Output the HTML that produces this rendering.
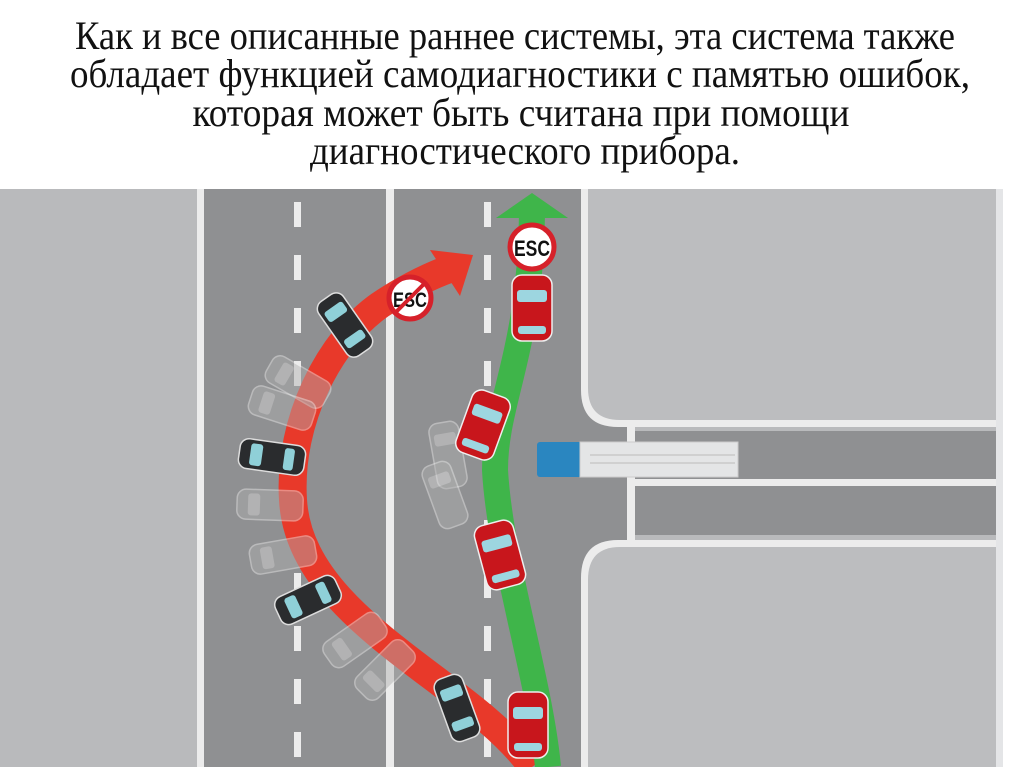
<!DOCTYPE html>
<html><head><meta charset="utf-8"><style>
html,body{margin:0;padding:0;background:#fff;width:1024px;height:767px;overflow:hidden}
svg{display:block}
</style></head><body>
<svg width="1024" height="767" viewBox="0 0 1024 767" xmlns="http://www.w3.org/2000/svg">
<defs>
<g id="bcar"><rect x="-33" y="-15" width="66" height="30" rx="9" fill="#2a2c2e" stroke="#ddd" stroke-width="1.5"/><rect x="-22" y="-11" width="12" height="22" rx="3" fill="#8fd0d8"/><rect x="12" y="-11" width="10" height="22" rx="3" fill="#8fd0d8"/></g>
<g id="gcar" opacity="0.45"><rect x="-33" y="-15" width="66" height="30" rx="9" fill="#b0b0b0" stroke="#eee" stroke-width="1.5"/><rect x="-22" y="-11" width="12" height="22" rx="3" fill="#ddd"/></g>
<g id="rcar"><rect x="-20" y="-33" width="40" height="66" rx="10" fill="#c8161c" stroke="#eee" stroke-width="1.5"/><rect x="-15" y="-18" width="30" height="12" rx="3" fill="#9dd6e0"/><rect x="-14" y="18" width="28" height="8" rx="3" fill="#9dd6e0"/></g>
</defs>
<g font-family="'Liberation Serif','Noto Serif CJK SC',serif" font-size="40" fill="#111" text-anchor="middle">
<text x="515" y="49" textLength="880" lengthAdjust="spacingAndGlyphs">Как и все описанные раннее системы, эта система также</text>
<text x="520" y="87" textLength="900" lengthAdjust="spacingAndGlyphs">обладает функцией самодиагностики с памятью ошибок,</text>
<text x="521" y="126" textLength="657" lengthAdjust="spacingAndGlyphs">которая может быть считана при помощи</text>
<text x="525" y="164" textLength="430" lengthAdjust="spacingAndGlyphs">диагностического прибора.</text>
</g>
<rect x="0" y="189" width="1003" height="578" fill="#b9babc"/>
<rect x="197" y="189" width="391" height="578" fill="#ececec"/>
<rect x="204" y="189" width="182" height="578" fill="#8f9092"/>
<rect x="394" y="189" width="187" height="578" fill="#8f9092"/>
<rect x="581" y="189" width="46" height="578" fill="#8f9092"/>
<rect x="996" y="189" width="7" height="578" fill="#e4e5e7"/>
<path d="M581 189 V390 Q581 427 618 427 H996 V189 Z" fill="#ececec"/>
<path d="M588 189 V388 Q588 420 620 420 H996 V189 Z" fill="#bcbdbf"/>
<path d="M581 767 V578 Q581 540 618 540 H996 V767 Z" fill="#ececec"/>
<path d="M588 767 V580 Q588 547 620 547 H996 V767 Z" fill="#bcbdbf"/>
<rect x="627" y="427" width="8" height="113" fill="#ececec"/>
<rect x="635" y="431" width="361" height="48" fill="#8f9092"/>
<rect x="635" y="479" width="361" height="7" fill="#ececec"/>
<rect x="635" y="486" width="361" height="49" fill="#8f9092"/>
<g fill="#ececec">
<rect x="294" y="202" width="7" height="25"/><rect x="294" y="255" width="7" height="25"/><rect x="294" y="308" width="7" height="25"/><rect x="294" y="361" width="7" height="25"/><rect x="294" y="414" width="7" height="25"/><rect x="294" y="467" width="7" height="25"/><rect x="294" y="520" width="7" height="25"/><rect x="294" y="573" width="7" height="25"/><rect x="294" y="626" width="7" height="25"/><rect x="294" y="679" width="7" height="25"/><rect x="294" y="732" width="7" height="25"/>
<rect x="484" y="202" width="7" height="25"/><rect x="484" y="255" width="7" height="25"/><rect x="484" y="308" width="7" height="25"/><rect x="484" y="361" width="7" height="25"/><rect x="484" y="414" width="7" height="25"/><rect x="484" y="467" width="7" height="25"/><rect x="484" y="520" width="7" height="25"/><rect x="484" y="573" width="7" height="25"/><rect x="484" y="626" width="7" height="25"/><rect x="484" y="679" width="7" height="25"/><rect x="484" y="732" width="7" height="25"/>
</g>
<path d="M532 767 C470 680 300 620 293 500 C288 420 330 340 380 305 C410 285 435 274 452 268" fill="none" stroke="#e8392a" stroke-width="28"/>
<polygon points="473,255 430,250 460,296" fill="#e8392a"/>
<path d="M548 767 C540 680 500 560 495 470 C495 400 532 350 532 205" fill="none" stroke="#3fb54a" stroke-width="26"/>
<polygon points="532,193 496,218 568,218" fill="#3fb54a"/>
<rect x="537" y="442" width="45" height="35" rx="3" fill="#2a86c0"/>
<rect x="580" y="442" width="158" height="35" fill="#e4e5e6" stroke="#ccc"/>
<line x1="590" y1="455" x2="735" y2="455" stroke="#bbb"/><line x1="590" y1="463" x2="735" y2="463" stroke="#bbb"/>
<use href="#gcar" transform="translate(298,382) rotate(30)"/>
<use href="#gcar" transform="translate(282,408) rotate(18)"/>
<use href="#gcar" transform="translate(270,505) rotate(2)"/>
<use href="#gcar" transform="translate(283,555) rotate(-10)"/>
<use href="#gcar" transform="translate(355,640) rotate(-35)"/>
<use href="#gcar" transform="translate(385,670) rotate(-45)"/>
<use href="#gcar" transform="translate(448,455) rotate(80)"/>
<use href="#gcar" transform="translate(445,495) rotate(70)"/>
<use href="#bcar" transform="translate(345,325) rotate(55)"/>
<use href="#bcar" transform="translate(272,457) rotate(8)"/>
<use href="#bcar" transform="translate(308,600) rotate(-25)"/>
<use href="#bcar" transform="translate(457,708) rotate(70)"/>
<use href="#rcar" transform="translate(532,308)"/>
<use href="#rcar" transform="translate(483,425) rotate(20)"/>
<use href="#rcar" transform="translate(500,555) rotate(-15)"/>
<use href="#rcar" transform="translate(528,725)"/>
<circle cx="532" cy="247" r="22" fill="#fff" stroke="#d6212a" stroke-width="5"/>
<text x="532" y="256" font-family="'Liberation Sans',sans-serif" font-weight="bold" font-size="22" text-anchor="middle" fill="#111" textLength="36" lengthAdjust="spacingAndGlyphs">ESC</text>
<circle cx="410" cy="298" r="21" fill="#fff" stroke="#d6212a" stroke-width="5"/>
<text x="410" y="307" font-family="'Liberation Sans',sans-serif" font-weight="bold" font-size="21" text-anchor="middle" fill="#111" textLength="34" lengthAdjust="spacingAndGlyphs">ESC</text>
<line x1="395" y1="313" x2="425" y2="283" stroke="#d6212a" stroke-width="4"/>
</svg>
</body></html>
